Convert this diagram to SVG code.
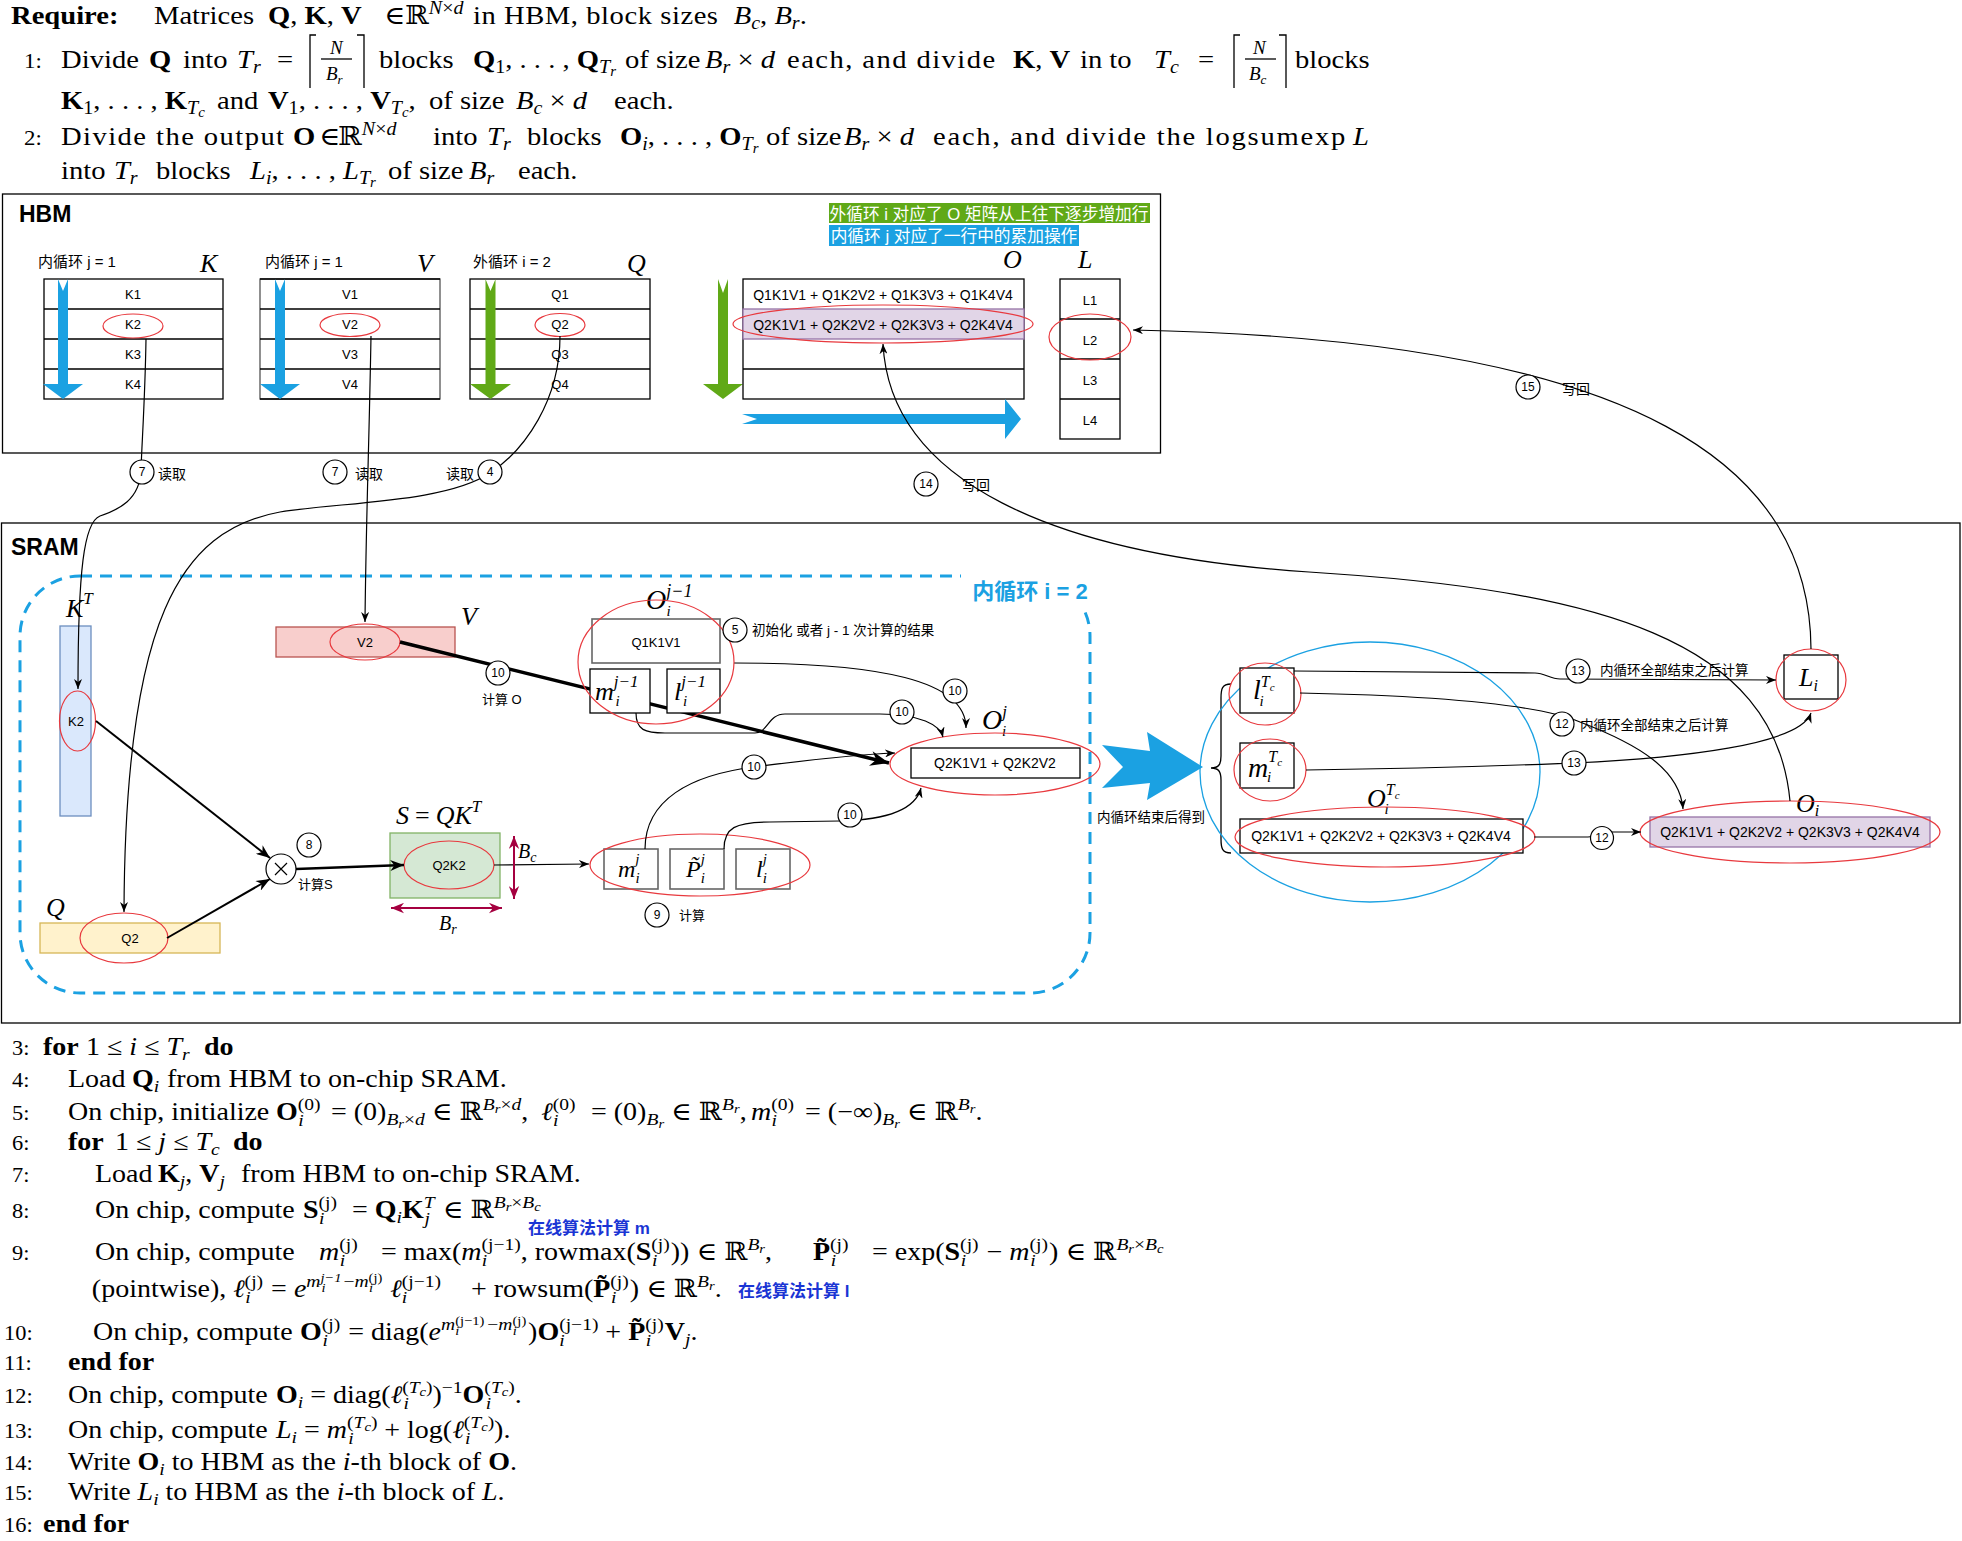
<svg xmlns="http://www.w3.org/2000/svg" width="1962" height="1541" viewBox="0 0 1962 1541">
<defs>
<style>
.top{font-family:"Liberation Serif","DejaVu Serif",serif;font-size:26px;fill:#000}
.alg{font-family:"Liberation Serif","DejaVu Serif",serif;font-size:25px;fill:#000}
.b{font-weight:bold}
.i{font-style:italic}
.s{font-size:0.7em}
.ss{font-size:0.52em}
.ln{font-size:0.8em}
.ls{letter-spacing:1.3px}
.sans{font-family:"Liberation Sans",Arial,"Noto Sans CJK SC",sans-serif;fill:#000}
.cn{font-family:"Liberation Sans","Noto Sans CJK SC",sans-serif;font-size:14px;fill:#000}
.mth{font-family:"Liberation Serif","DejaVu Serif",serif;font-style:italic;fill:#000}
.box{fill:#fff;stroke:#000;stroke-width:1.3}
.gbox{fill:#fff;stroke:#666;stroke-width:1.6}
.red{fill:none;stroke:#e8393e;stroke-width:1.2}
.num{fill:#fff;stroke:#000;stroke-width:1.2}
.ntx{font-family:"Liberation Sans",Arial,sans-serif;font-size:12px;text-anchor:middle;fill:#000}
.c{text-anchor:middle}
.conn path{fill:none;stroke:#000;stroke-width:1.2}
.blueF{fill:#1ba1e2}
.greenF{fill:#60a917}
</style>
<marker id="ah" viewBox="0 0 10 8" refX="10" refY="4" markerWidth="10" markerHeight="8" orient="auto" markerUnits="userSpaceOnUse"><path d="M0,0 L10,4 L0,8 L3,4 z" fill="#000"/></marker>
<marker id="ahM" viewBox="0 0 10 8" refX="10" refY="4" markerWidth="14" markerHeight="11" orient="auto" markerUnits="userSpaceOnUse"><path d="M0,0 L10,4 L0,8 L3,4 z" fill="#000"/></marker>
<marker id="ahB" viewBox="0 0 10 8" refX="10" refY="4" markerWidth="20" markerHeight="15" orient="auto" markerUnits="userSpaceOnUse"><path d="M0,0 L10,4 L0,8 L3,4 z" fill="#000"/></marker>
<marker id="ahR" viewBox="0 0 10 8" refX="10" refY="4" markerWidth="13" markerHeight="11" orient="auto-start-reverse" markerUnits="userSpaceOnUse"><path d="M0,0 L10,4 L0,8 L3,4 z" fill="#a50040"/></marker>
</defs>
<rect x="0" y="0" width="1962" height="1541" fill="#fff"/>

<!-- ================= TOP ALGORITHM TEXT ================= -->
<g id="require-text">
<g transform="scale(1.1,1)">
<text class="top" y="24"><tspan x="10" class="b">Require:</tspan><tspan x="140">Matrices</tspan><tspan x="243.6" class="b">Q</tspan>, <tspan class="b">K</tspan>, <tspan class="b">V</tspan><tspan x="349.1">∈</tspan><tspan x="368.2">ℝ</tspan><tspan class="s i" dy="-10">N</tspan><tspan class="s">×</tspan><tspan class="s i">d</tspan><tspan x="430" dy="10" style="letter-spacing:0.5px">in HBM, block sizes</tspan><tspan x="667" class="i">B</tspan><tspan class="s i" dy="5">c</tspan><tspan dy="-5">, </tspan><tspan class="i">B</tspan><tspan class="s i" dy="5">r</tspan><tspan dy="-5">.</tspan></text>
<text class="top" y="68"><tspan x="21.8" class="ln">1:</tspan><tspan x="55.5">Divide</tspan><tspan x="135.5" class="b">Q</tspan><tspan x="166.4">into</tspan><tspan x="215.5" class="i">T</tspan><tspan class="s i" dy="5">r</tspan><tspan x="251.8" dy="-5">=</tspan><tspan x="344.5">blocks</tspan><tspan x="430" class="b">Q</tspan><tspan class="s" dy="5">1</tspan><tspan dy="-5">, . . . , </tspan><tspan class="b">Q</tspan><tspan class="s i" dy="5">T</tspan><tspan class="ss i" dy="3">r</tspan><tspan x="568.2" dy="-8">of size</tspan><tspan x="640.9" class="i">B</tspan><tspan class="s i" dy="5">r</tspan><tspan dy="-5"> × </tspan><tspan class="i">d</tspan><tspan x="715.5" class="ls">each, and divide</tspan><tspan x="920.9" class="b">K</tspan>, <tspan class="b">V</tspan><tspan x="981.8">in to</tspan><tspan x="1049.1" class="i">T</tspan><tspan class="s i" dy="5">c</tspan><tspan x="1089.1" dy="-5">=</tspan><tspan x="1177.3">blocks</tspan></text>
<text class="top" y="109"><tspan x="55.5" class="b">K</tspan><tspan class="s" dy="5">1</tspan><tspan dy="-5">, . . . , </tspan><tspan class="b">K</tspan><tspan class="s i" dy="5">T</tspan><tspan class="ss i" dy="3">c</tspan><tspan x="197.3" dy="-8">and</tspan><tspan x="243.6" class="b">V</tspan><tspan class="s" dy="5">1</tspan><tspan dy="-5">, . . . , </tspan><tspan class="b">V</tspan><tspan class="s i" dy="5">T</tspan><tspan class="ss i" dy="3">c</tspan><tspan dy="-8">,</tspan><tspan x="390">of size</tspan><tspan x="469.1" class="i">B</tspan><tspan class="s i" dy="5">c</tspan><tspan dy="-5"> × </tspan><tspan class="i">d</tspan><tspan x="558.2">each.</tspan></text>
<text class="top" y="145"><tspan x="21.8" class="ln">2:</tspan><tspan x="55.5" class="ls">Divide the output</tspan><tspan x="266.4" class="b">O</tspan><tspan x="290">∈</tspan><tspan x="307.3">ℝ</tspan><tspan class="s i" dy="-10">N</tspan><tspan class="s">×</tspan><tspan class="s i">d</tspan><tspan x="393.6" dy="10">into</tspan><tspan x="442.7" class="i">T</tspan><tspan class="s i" dy="5">r</tspan><tspan x="479.1" dy="-5">blocks</tspan><tspan x="563.6" class="b">O</tspan><tspan class="s i" dy="5">i</tspan><tspan dy="-5">, . . . , </tspan><tspan class="b">O</tspan><tspan class="s i" dy="5">T</tspan><tspan class="ss i" dy="3">r</tspan><tspan x="696.4" dy="-8">of size</tspan><tspan x="767.3" class="i">B</tspan><tspan class="s i" dy="5">r</tspan><tspan dy="-5"> × </tspan><tspan class="i">d</tspan><tspan x="848.2" style="letter-spacing:1.6px">each, and divide the logsumexp</tspan><tspan x="1230" class="i">L</tspan></text>
<text class="top" y="179"><tspan x="55.5">into</tspan><tspan x="103.6" class="i">T</tspan><tspan class="s i" dy="5">r</tspan><tspan x="141.8" dy="-5">blocks</tspan><tspan x="227.3" class="i">L</tspan><tspan class="s i" dy="5">i</tspan><tspan dy="-5">, . . . , </tspan><tspan class="i">L</tspan><tspan class="s i" dy="5">T</tspan><tspan class="ss i" dy="3">r</tspan><tspan x="352.7" dy="-8">of size</tspan><tspan x="426.4" class="i">B</tspan><tspan class="s i" dy="5">r</tspan><tspan x="470.9" dy="-5">each.</tspan></text>
</g>
<g fill="none" stroke="#000" stroke-width="1.3">
<path d="M316,35 H310 V88 M357,35 H364 V88"/>
<path d="M321,59 H352"/>
<path d="M1240,35 H1234 V88 M1279,35 H1286 V88"/>
<path d="M1245,59 H1276"/>
</g>
<text class="mth" x="330" y="54" style="font-size:19px">N</text>
<text class="mth" x="326" y="80" style="font-size:19px">B<tspan dy="4" style="font-size:13px">r</tspan></text>
<text class="mth" x="1253" y="54" style="font-size:19px">N</text>
<text class="mth" x="1249" y="80" style="font-size:19px">B<tspan dy="4" style="font-size:13px">c</tspan></text>
</g>

<!-- ================= HBM ================= -->
<g id="hbm">
<rect x="2.5" y="194" width="1158" height="259" fill="#fff" stroke="#000" stroke-width="1.3"/>
<text x="19" y="222" class="sans b" style="font-size:23px">HBM</text>
</g>

<g id="legend">
<rect x="829" y="203" width="321" height="20" class="greenF"/>
<text x="989" y="219.5" class="cn c" style="font-size:16.7px;fill:#fff">外循环 i 对应了 O 矩阵从上往下逐步增加行</text>
<rect x="829" y="225" width="250" height="21" class="blueF"/>
<text x="954" y="241.5" class="cn c" style="font-size:16.7px;fill:#fff">内循环 j 对应了一行中的累加操作</text>
</g>

<g id="hbm-k">
<text x="38" y="267" class="cn" style="font-size:15px">内循环 j = 1</text>
<text x="200" y="272" class="mth" style="font-size:26px">K</text>
<rect x="44" y="279" width="179" height="120" class="box"/>
<path d="M44,309H223M44,339H223M44,369H223" stroke="#000" stroke-width="1.3"/>
<polygon points="58,279 63,291 68,279 68,384 83,384 63,399 43,384 58,384" class="blueF"/>
<g class="sans c" style="font-size:13px"><text x="133" y="298.5">K1</text><text x="133" y="328.5">K2</text><text x="133" y="358.5">K3</text><text x="133" y="388.5">K4</text></g>
<ellipse cx="133" cy="326" rx="30" ry="12" class="red"/>
</g>

<g id="hbm-v">
<text x="265" y="267" class="cn" style="font-size:15px">内循环 j = 1</text>
<text x="417" y="272" class="mth" style="font-size:26px">V</text>
<rect x="260" y="279" width="180" height="120" fill="#fff" stroke="#555" stroke-width="1.3"/>
<path d="M260,279H440M260,309H440M260,339H440M260,369H440M260,399H440" stroke="#000" stroke-width="1.3"/>
<polygon points="275,279 280,291 285,279 285,384 300,384 280,399 260,384 275,384" class="blueF"/>
<g class="sans c" style="font-size:13px"><text x="350" y="298.5">V1</text><text x="350" y="328.5">V2</text><text x="350" y="358.5">V3</text><text x="350" y="388.5">V4</text></g>
<ellipse cx="350" cy="325" rx="30" ry="11.5" class="red"/>
</g>

<g id="hbm-q">
<text x="473" y="267" class="cn" style="font-size:15px">外循环 i = 2</text>
<text x="627" y="272" class="mth" style="font-size:26px">Q</text>
<rect x="470" y="279" width="180" height="120" class="box"/>
<path d="M470,309H650M470,339H650M470,369H650" stroke="#000" stroke-width="1.3"/>
<polygon points="485.5,279 490.5,291 495.5,279 495.5,384 511,384 490.5,399 470,384 485.5,384" class="greenF"/>
<g class="sans c" style="font-size:13px"><text x="560" y="298.5">Q1</text><text x="560" y="328.5">Q2</text><text x="560" y="358.5">Q3</text><text x="560" y="388.5">Q4</text></g>
<ellipse cx="560" cy="325" rx="25" ry="11.5" class="red"/>
</g>

<g id="hbm-o">
<text x="1003" y="268" class="mth" style="font-size:26px">O</text>
<polygon points="718,279 723,293 728,279 728,384 743,384 723,399 703,384 718,384" class="greenF"/>
<rect x="743" y="279" width="281" height="120" class="box"/>
<rect x="743" y="309" width="281" height="30" fill="#e1d5e7" stroke="#9673a6" stroke-width="1.3"/>
<path d="M743,369H1024" stroke="#000" stroke-width="1.3"/>
<g class="sans c" style="font-size:14px"><text x="883" y="299.5">Q1K1V1 + Q1K2V2 + Q1K3V3 + Q1K4V4</text><text x="883" y="329.5">Q2K1V1 + Q2K2V2 + Q2K3V3 + Q2K4V4</text></g>
<ellipse cx="883" cy="324" rx="150" ry="19" class="red"/>
<polygon points="742,414 757,419 742,424 1005,424 1005,439 1021,419 1005,399 1005,414" class="blueF"/>
</g>

<g id="hbm-l">
<text x="1078" y="268" class="mth" style="font-size:26px">L</text>
<rect x="1060" y="279" width="60" height="160" class="box"/>
<path d="M1060,319H1120M1060,359H1120M1060,399H1120" stroke="#000" stroke-width="1.3"/>
<g class="sans c" style="font-size:13px"><text x="1090" y="304.5">L1</text><text x="1090" y="344.5">L2</text><text x="1090" y="384.5">L3</text><text x="1090" y="424.5">L4</text></g>
<ellipse cx="1090" cy="337" rx="41" ry="23" class="red"/>
</g>

<!-- ================= SRAM ================= -->
<g id="sram">
<rect x="1.5" y="523" width="1958.5" height="500" fill="none" stroke="#000" stroke-width="1.3"/>
<text x="11" y="555" class="sans b" style="font-size:23px">SRAM</text>
</g>

<g id="inner-loop">
<rect x="20" y="576" width="1070" height="417" rx="60" ry="60" fill="none" stroke="#1ba1e2" stroke-width="3" stroke-dasharray="12 8"/>
<rect x="961" y="574" width="134" height="34" fill="#fff"/>
<text x="1030" y="599" class="cn c b" style="font-size:22px;fill:#1ba1e2">内循环 i = 2</text>
</g>

<g id="sram-kt">
<text x="66" y="617" class="mth" style="font-size:26px">K<tspan dy="-13" style="font-size:17px">T</tspan></text>
<rect x="60" y="626" width="31" height="190" fill="#dae8fc" stroke="#6c8ebf" stroke-width="1.3"/>
<ellipse cx="77.5" cy="721" rx="18" ry="30" class="red"/>
<text x="76" y="726" class="sans c" style="font-size:13px">K2</text>
</g>

<g id="sram-v">
<text x="461" y="625" class="mth" style="font-size:26px">V</text>
<rect x="276" y="627" width="179" height="30" fill="#f8cecc" stroke="#b85450" stroke-width="1.3"/>
<ellipse cx="365" cy="642" rx="35" ry="18" class="red"/>
<text x="365" y="647" class="sans c" style="font-size:13px">V2</text>
</g>

<g id="sram-q">
<text x="46" y="916" class="mth" style="font-size:26px">Q</text>
<rect x="40" y="923" width="180" height="30" fill="#fff2cc" stroke="#d6b656" stroke-width="1.3"/>
<ellipse cx="124" cy="938" rx="44" ry="25" class="red"/>
<text x="130" y="943" class="sans c" style="font-size:13px">Q2</text>
</g>

<g id="sram-s">
<text x="396" y="824" class="mth" style="font-size:26px">S<tspan dx="6" style="font-style:normal">=</tspan><tspan dx="6">QK</tspan><tspan dy="-12" style="font-size:17px">T</tspan></text>
<rect x="390" y="833" width="110" height="65" fill="#d5e8d4" stroke="#82b366" stroke-width="1.3"/>
<ellipse cx="449" cy="865" rx="45" ry="24" class="red"/>
<text x="449" y="870" class="sans c" style="font-size:13px">Q2K2</text>
<text x="518" y="858" class="mth" style="font-size:20px">B<tspan dy="4" style="font-size:14px">c</tspan></text>
<text x="439" y="930" class="mth" style="font-size:20px">B<tspan dy="4" style="font-size:14px">r</tspan></text>
</g>

<g id="sram-mpl">
<rect x="604" y="849" width="54" height="40" class="gbox"/>
<rect x="670" y="849" width="54" height="40" class="gbox"/>
<rect x="736" y="849" width="54" height="40" class="gbox"/>
<text x="618" y="877" class="mth" style="font-size:24px">m<tspan dy="-13" style="font-size:15px">j</tspan><tspan dx="-4" dy="19" style="font-size:15px">i</tspan></text>
<text x="686" y="877" class="mth" style="font-size:24px">P̃<tspan dy="-13" style="font-size:15px">j</tspan><tspan dx="-4" dy="19" style="font-size:15px">i</tspan></text>
<text x="756" y="877" class="mth" style="font-size:24px">l<tspan dy="-13" style="font-size:15px">j</tspan><tspan dx="-4" dy="19" style="font-size:15px">i</tspan></text>
<ellipse cx="700" cy="865" rx="110" ry="31" class="red"/>
</g>

<g id="sram-oj">
<text x="982" y="729" class="mth" style="font-size:28px">O<tspan dy="-12" style="font-size:17px">j</tspan><tspan dx="-5" dy="19" style="font-size:15px">i</tspan></text>
<rect x="911" y="748" width="169" height="30" class="box"/>
<text x="995" y="768" class="sans c" style="font-size:14px">Q2K1V1 + Q2K2V2</text>
<ellipse cx="995" cy="764" rx="105" ry="31" class="red"/>
</g>

<g id="sram-result">
<polygon points="1102,745 1150,751 1147,732 1203,767 1147,800 1150,783 1102,788 1123,767" class="blueF"/>
<text x="1097" y="822" class="cn" style="font-size:13.5px">内循环结束后得到</text>
<path d="M1231,684 C1222,684 1221,689 1221,698 L1221,756 C1221,764 1219,768 1211,768 C1219,768 1221,772 1221,780 L1221,839 C1221,848 1222,853 1231,853" fill="none" stroke="#000" stroke-width="1.3"/>
<ellipse cx="1370" cy="772" rx="170" ry="130" fill="none" stroke="#1ba1e2" stroke-width="1.3"/>
</g>

<g id="sram-ltc">
<rect x="1240" y="668" width="54" height="45" class="box"/>
<text x="1253" y="699" class="mth" style="font-size:28px">l<tspan dy="-12" style="font-size:16px">T</tspan><tspan dy="4" style="font-size:11px">c</tspan><tspan dx="-15" dy="15" style="font-size:15px">i</tspan></text>
<ellipse cx="1265" cy="694" rx="36" ry="31" class="red"/>
</g>

<g id="sram-mtc">
<rect x="1240" y="743" width="54" height="45" class="box"/>
<text x="1248" y="777" class="mth" style="font-size:28px">m<tspan dy="-15" style="font-size:16px">T</tspan><tspan dy="4" style="font-size:11px">c</tspan><tspan dx="-15" dy="16" style="font-size:15px">i</tspan></text>
<ellipse cx="1270" cy="770" rx="36" ry="31" class="red"/>
</g>

<g id="sram-otc">
<text x="1367" y="807" class="mth" style="font-size:26px">O<tspan dy="-12" style="font-size:16px">T</tspan><tspan dy="4" style="font-size:11px">c</tspan><tspan dx="-15" dy="15" style="font-size:15px">i</tspan></text>
<rect x="1240" y="819" width="283" height="34" class="box"/>
<text x="1381" y="841" class="sans c" style="font-size:14px">Q2K1V1 + Q2K2V2 + Q2K3V3 + Q2K4V4</text>
<ellipse cx="1385" cy="837" rx="150" ry="30" class="red"/>
</g>

<g id="sram-li">
<rect x="1784" y="655" width="54" height="44" class="box"/>
<text x="1799" y="686" class="mth" style="font-size:26px">L<tspan dy="5" style="font-size:16px">i</tspan></text>
<ellipse cx="1811" cy="680" rx="35" ry="31" class="red"/>
</g>

<g id="sram-oi">
<text x="1796" y="812" class="mth" style="font-size:26px">O<tspan dy="4" style="font-size:16px">i</tspan></text>
<rect x="1650" y="817" width="280" height="30" fill="#e1d5e7" stroke="#9673a6" stroke-width="1.3"/>
<text x="1790" y="837" class="sans c" style="font-size:14px">Q2K1V1 + Q2K2V2 + Q2K3V3 + Q2K4V4</text>
<ellipse cx="1790" cy="832" rx="150" ry="31" class="red"/>
</g>

<!-- ================= CONNECTORS ================= -->
<g id="connectors" class="conn">
<path d="M146,339 C145,400 142,440 141,470 C140,500 118,510 100,516 C84,522 78,570 78,689" marker-end="url(#ah)"/>
<path d="M371,336 C369,450 366,520 365,622" marker-end="url(#ah)"/>
<path d="M560,336 C560,400 525,450 490,473 C445,503 340,502 280,512 C180,530 125,620 124,912" marker-end="url(#ah)"/>
<path d="M96,721 L270,858" style="stroke-width:2" marker-end="url(#ahM)"/>
<path d="M167,938 L270,879" style="stroke-width:2" marker-end="url(#ahM)"/>
<path d="M296,869 L404,865" style="stroke-width:2.5" marker-end="url(#ahM)"/>
<path d="M494,865 L589,864" marker-end="url(#ah)"/>
<path d="M400,642 L889,763" style="stroke-width:3.5" marker-end="url(#ahB)"/>
<path d="M734,663 C880,663 966,680 966,728" marker-end="url(#ah)"/>
<path d="M636,713 C636,730 645,733 665,733 L755,733 C768,733 768,714 785,714 L880,714 C920,714 940,725 943,737" marker-end="url(#ah)"/>
<path d="M645,849 C645,800 690,775 754,767 C800,761 850,755 895,753" marker-end="url(#ah)"/>
<path d="M724,849 C724,828 735,822 770,822 L840,821 C880,820 915,812 921,788" marker-end="url(#ah)"/>
<path d="M1294,671 L1535,673 C1545,673 1550,679 1560,679 L1776,680" marker-end="url(#ah)"/>
<path d="M1300,693 C1450,696 1540,705 1580,722 C1640,745 1680,770 1683,809" marker-end="url(#ah)"/>
<path d="M1306,770 C1450,768 1520,765 1574,763 C1680,758 1800,745 1811,713" marker-end="url(#ah)"/>
<path d="M1534,837 L1588,837 C1596,837 1598,832 1608,832 L1641,832" marker-end="url(#ah)"/>
<path d="M1811,649 C1810,470 1650,340 1133,330" marker-end="url(#ah)"/>
<path d="M1790,801 C1775,640 1600,590 1309,572 C1050,555 890,480 883,344" marker-end="url(#ah)"/>
<path d="M514,836 L514,899" style="stroke:#a50040;stroke-width:2" marker-start="url(#ahR)" marker-end="url(#ahR)"/>
<path d="M391,908 L502,908" style="stroke:#a50040;stroke-width:2" marker-start="url(#ahR)" marker-end="url(#ahR)"/>
</g>

<!-- nodes drawn above connectors -->
<g id="sram-oj1">
<text x="646" y="609" class="mth" style="font-size:28px">O<tspan dy="-12" style="font-size:18px">j−1</tspan><tspan dx="-26" dy="19" style="font-size:15px">i</tspan></text>
<rect x="592" y="619" width="128" height="44" class="gbox"/>
<text x="656" y="647" class="sans c" style="font-size:13px">Q1K1V1</text>
<rect x="590" y="669" width="60" height="44" class="box"/>
<rect x="667" y="669" width="53" height="44" class="box"/>
<text x="595" y="700" class="mth" style="font-size:26px">m<tspan dy="-13" style="font-size:17px">j−1</tspan><tspan dx="-23" dy="19" style="font-size:15px">i</tspan></text>
<text x="674" y="700" class="mth" style="font-size:26px">l<tspan dy="-13" style="font-size:17px">j−1</tspan><tspan dx="-23" dy="19" style="font-size:15px">i</tspan></text>
<ellipse cx="656" cy="662" rx="78" ry="62" class="red"/>
</g>

<g id="mul">
<circle cx="281" cy="869" r="15" fill="#fff" stroke="#000" stroke-width="1.2"/>
<path d="M275,863 L287,875 M287,863 L275,875" stroke="#000" stroke-width="1.2"/>
</g>

<g id="step-labels">
<circle cx="142" cy="472" r="12" class="num"/><text x="142" y="476" class="ntx">7</text>
<text x="158" y="479" class="cn">读取</text>
<circle cx="335" cy="472" r="12" class="num"/><text x="335" y="476" class="ntx">7</text>
<text x="355" y="479" class="cn">读取</text>
<text x="446" y="479" class="cn">读取</text>
<circle cx="490" cy="472" r="12" class="num"/><text x="490" y="476" class="ntx">4</text>
<circle cx="926" cy="484" r="12" class="num"/><text x="926" y="488" class="ntx">14</text>
<text x="962" y="490" class="cn">写回</text>
<circle cx="1528" cy="387" r="12" class="num"/><text x="1528" y="391" class="ntx">15</text>
<text x="1562" y="394" class="cn">写回</text>
<circle cx="735" cy="630" r="12" class="num"/><text x="735" y="634" class="ntx">5</text>
<text x="752" y="635" class="cn" style="font-size:13.5px">初始化  或者 j - 1 次计算的结果</text>
<circle cx="498" cy="673" r="12" class="num"/><text x="498" y="677" class="ntx">10</text>
<text x="482" y="704" class="cn" style="font-size:13px">计算 O</text>
<circle cx="309" cy="845" r="12" class="num"/><text x="309" y="849" class="ntx">8</text>
<text x="298" y="889" class="cn" style="font-size:13px">计算S</text>
<circle cx="955" cy="691" r="12" class="num"/><text x="955" y="695" class="ntx">10</text>
<circle cx="902" cy="712" r="12" class="num"/><text x="902" y="716" class="ntx">10</text>
<circle cx="754" cy="767" r="12" class="num"/><text x="754" y="771" class="ntx">10</text>
<circle cx="850" cy="815" r="12" class="num"/><text x="850" y="819" class="ntx">10</text>
<circle cx="657" cy="915" r="12" class="num"/><text x="657" y="919" class="ntx">9</text>
<text x="679" y="920" class="cn" style="font-size:13px">计算</text>
<circle cx="1578" cy="671" r="12" class="num"/><text x="1578" y="675" class="ntx">13</text>
<text x="1600" y="675" class="cn" style="font-size:13.5px">内循环全部结束之后计算</text>
<circle cx="1562" cy="724" r="12" class="num"/><text x="1562" y="728" class="ntx">12</text>
<text x="1580" y="730" class="cn" style="font-size:13.5px">内循环全部结束之后计算</text>
<circle cx="1574" cy="763" r="12" class="num"/><text x="1574" y="767" class="ntx">13</text>
<circle cx="1602" cy="838" r="11.5" class="num"/><text x="1602" y="842" class="ntx">12</text>
</g>

<!-- ================= LOWER ALGORITHM TEXT ================= -->
<g id="algorithm">
<g transform="scale(1.12,1)">
<text class="alg" y="1055"><tspan x="10.7" class="ln">3:</tspan><tspan x="38.4" class="b">for</tspan><tspan x="76.8">1 ≤ </tspan><tspan class="i">i</tspan> ≤ <tspan class="i">T</tspan><tspan class="s i" dy="5">r</tspan><tspan x="182.1" dy="-5" class="b">do</tspan></text>
<text class="alg" y="1087"><tspan x="10.7" class="ln">4:</tspan><tspan x="60.7">Load</tspan><tspan x="117.9" class="b">Q</tspan><tspan class="s i" dy="5">i</tspan><tspan x="149.1" dy="-5">from HBM to on-chip SRAM.</tspan></text>
<text class="alg" y="1120"><tspan x="10.7" class="ln">5:</tspan><tspan x="60.7">On chip, initialize</tspan><tspan x="246.4" class="b">O</tspan><tspan class="s" dy="-10">(0)</tspan><tspan class="s i" dx="-20" dy="16">i</tspan><tspan x="295.5" dy="-6">= (0)</tspan><tspan class="s i" dy="5">B</tspan><tspan class="ss i" dy="3">r</tspan><tspan class="s" dy="-3">×</tspan><tspan class="s i">d</tspan><tspan dy="-5"> ∈ ℝ</tspan><tspan class="s i" dy="-10">B</tspan><tspan class="ss i" dy="3">r</tspan><tspan class="s" dy="-3">×</tspan><tspan class="s i">d</tspan><tspan dy="10">,</tspan><tspan x="483" class="i">ℓ</tspan><tspan class="s" dy="-10">(0)</tspan><tspan class="s i" dx="-20" dy="16">i</tspan><tspan x="527.7" dy="-6">= (0)</tspan><tspan class="s i" dy="5">B</tspan><tspan class="ss i" dy="3">r</tspan><tspan dy="-8"> ∈ ℝ</tspan><tspan class="s i" dy="-10">B</tspan><tspan class="ss i" dy="3">r</tspan><tspan dy="7">,</tspan><tspan x="670.5" class="i">m</tspan><tspan class="s" dy="-10">(0)</tspan><tspan class="s i" dx="-20" dy="16">i</tspan><tspan x="718.8" dy="-6">= (−∞)</tspan><tspan class="s i" dy="5">B</tspan><tspan class="ss i" dy="3">r</tspan><tspan dy="-8"> ∈ ℝ</tspan><tspan class="s i" dy="-10">B</tspan><tspan class="ss i" dy="3">r</tspan><tspan dy="7">.</tspan></text>
<text class="alg" y="1150"><tspan x="10.7" class="ln">6:</tspan><tspan x="60.7" class="b">for</tspan><tspan x="102.7">1 ≤ </tspan><tspan class="i">j</tspan> ≤ <tspan class="i">T</tspan><tspan class="s i" dy="5">c</tspan><tspan x="208" dy="-5" class="b">do</tspan></text>
<text class="alg" y="1182"><tspan x="10.7" class="ln">7:</tspan><tspan x="84.8">Load</tspan><tspan x="141.1" class="b">K</tspan><tspan class="s i" dy="5">j</tspan><tspan dy="-5">, </tspan><tspan class="b">V</tspan><tspan class="s i" dy="5">j</tspan><tspan x="215.2" dy="-5">from HBM to on-chip SRAM.</tspan></text>
<text class="alg" y="1218"><tspan x="10.7" class="ln">8:</tspan><tspan x="84.8">On chip, compute</tspan><tspan x="270.5" class="b">S</tspan><tspan class="s" dy="-10">(j)</tspan><tspan class="s i" dx="-16" dy="16">i</tspan><tspan x="314.3" dy="-6">= </tspan><tspan class="b">Q</tspan><tspan class="s i" dy="5">i</tspan><tspan class="b" dy="-5">K</tspan><tspan class="s i" dy="-10">T</tspan><tspan class="s i" dx="-9" dy="16">j</tspan><tspan dx="5" dy="-6"> ∈ ℝ</tspan><tspan class="s i" dy="-10">B</tspan><tspan class="ss i" dy="3">r</tspan><tspan class="s" dy="-3">×</tspan><tspan class="s i">B</tspan><tspan class="ss i" dy="3">c</tspan></text>
<text class="alg" y="1260"><tspan x="10.7" class="ln">9:</tspan><tspan x="84.8">On chip, compute</tspan><tspan x="284.8" class="i">m</tspan><tspan class="s" dy="-10">(j)</tspan><tspan class="s i" dx="-16" dy="16">i</tspan><tspan x="340.2" dy="-6">= max(</tspan><tspan class="i">m</tspan><tspan class="s" dy="-10">(j−1)</tspan><tspan class="s i" dx="-35" dy="16">i</tspan><tspan dx="30" dy="-6">, rowmax(</tspan><tspan class="b">S</tspan><tspan class="s" dy="-10">(j)</tspan><tspan class="s i" dx="-16" dy="16">i</tspan><tspan dx="12" dy="-6">)) ∈ ℝ</tspan><tspan class="s i" dy="-10">B</tspan><tspan class="ss i" dy="3">r</tspan><tspan dy="7">,</tspan><tspan x="725.9" class="b">P̃</tspan><tspan class="s" dy="-10">(j)</tspan><tspan class="s i" dx="-16" dy="16">i</tspan><tspan x="778.6" dy="-6">= exp(</tspan><tspan class="b">S</tspan><tspan class="s" dy="-10">(j)</tspan><tspan class="s i" dx="-16" dy="16">i</tspan><tspan dx="12" dy="-6"> − </tspan><tspan class="i">m</tspan><tspan class="s" dy="-10">(j)</tspan><tspan class="s i" dx="-16" dy="16">i</tspan><tspan dx="12" dy="-6">) ∈ ℝ</tspan><tspan class="s i" dy="-10">B</tspan><tspan class="ss i" dy="3">r</tspan><tspan class="s" dy="-3">×</tspan><tspan class="s i">B</tspan><tspan class="ss i" dy="3">c</tspan></text>
<text class="alg" y="1297"><tspan x="82">(pointwise),</tspan><tspan x="208" class="i">ℓ</tspan><tspan class="s" dy="-10">(j)</tspan><tspan class="s i" dx="-16" dy="16">i</tspan><tspan dx="12" dy="-6"> = </tspan><tspan class="i">e</tspan><tspan class="s i" dy="-10">m</tspan><tspan class="ss i" dy="-5">j−1</tspan><tspan class="ss i" dx="-18" dy="10">i</tspan><tspan class="s" dx="16" dy="-5">−</tspan><tspan class="s i">m</tspan><tspan class="ss" dy="-5">(j)</tspan><tspan class="ss i" dx="-12" dy="10">i</tspan><tspan dx="9" dy="5"> </tspan><tspan class="i">ℓ</tspan><tspan class="s" dy="-10">(j−1)</tspan><tspan class="s i" dx="-35" dy="16">i</tspan><tspan x="420.5" dy="-6">+ rowsum(</tspan><tspan class="b">P̃</tspan><tspan class="s" dy="-10">(j)</tspan><tspan class="s i" dx="-16" dy="16">i</tspan><tspan dx="12" dy="-6">) ∈ ℝ</tspan><tspan class="s i" dy="-10">B</tspan><tspan class="ss i" dy="3">r</tspan><tspan dy="7">.</tspan></text>
<text class="alg" y="1340"><tspan x="3.6" class="ln">10:</tspan><tspan x="83">On chip, compute</tspan><tspan x="267.9" class="b">O</tspan><tspan class="s" dy="-10">(j)</tspan><tspan class="s i" dx="-16" dy="16">i</tspan><tspan dx="12" dy="-6"> = diag(</tspan><tspan class="i">e</tspan><tspan class="s i" dy="-10">m</tspan><tspan class="ss" dy="-5">(j−1)</tspan><tspan class="ss i" dx="-26" dy="10">i</tspan><tspan class="s" dx="25" dy="-5">−</tspan><tspan class="s i">m</tspan><tspan class="ss" dy="-5">(j)</tspan><tspan class="ss i" dx="-12" dy="10">i</tspan><tspan dx="10" dy="5">)</tspan><tspan class="b">O</tspan><tspan class="s" dy="-10">(j−1)</tspan><tspan class="s i" dx="-35" dy="16">i</tspan><tspan dx="30" dy="-6"> + </tspan><tspan class="b">P̃</tspan><tspan class="s" dy="-10">(j)</tspan><tspan class="s i" dx="-16" dy="16">i</tspan><tspan class="b" dx="12" dy="-6">V</tspan><tspan class="s i" dy="5">j</tspan><tspan dy="-5">.</tspan></text>
<text class="alg" y="1370"><tspan x="3.6" class="ln">11:</tspan><tspan x="60.7" class="b">end for</tspan></text>
<text class="alg" y="1403"><tspan x="3.6" class="ln">12:</tspan><tspan x="60.7">On chip, compute</tspan><tspan x="246.4" class="b">O</tspan><tspan class="s i" dy="5">i</tspan><tspan dy="-5"> = diag(</tspan><tspan class="i">ℓ</tspan><tspan class="s" dy="-10">(</tspan><tspan class="s i">T</tspan><tspan class="ss i" dy="3">c</tspan><tspan class="s" dy="-3">)</tspan><tspan class="s i" dx="-26" dy="16">i</tspan><tspan dx="21" dy="-6">)</tspan><tspan class="s" dy="-10">−1</tspan><tspan class="b" dy="10">O</tspan><tspan class="s" dy="-10">(</tspan><tspan class="s i">T</tspan><tspan class="ss i" dy="3">c</tspan><tspan class="s" dy="-3">)</tspan><tspan class="s i" dx="-26" dy="16">i</tspan><tspan dx="21" dy="-6">.</tspan></text>
<text class="alg" y="1438"><tspan x="3.6" class="ln">13:</tspan><tspan x="60.7">On chip, compute</tspan><tspan x="246.4" class="i">L</tspan><tspan class="s i" dy="5">i</tspan><tspan dy="-5"> = </tspan><tspan class="i">m</tspan><tspan class="s" dy="-10">(</tspan><tspan class="s i">T</tspan><tspan class="ss i" dy="3">c</tspan><tspan class="s" dy="-3">)</tspan><tspan class="s i" dx="-26" dy="16">i</tspan><tspan dx="21" dy="-6"> + log(</tspan><tspan class="i">ℓ</tspan><tspan class="s" dy="-10">(</tspan><tspan class="s i">T</tspan><tspan class="ss i" dy="3">c</tspan><tspan class="s" dy="-3">)</tspan><tspan class="s i" dx="-26" dy="16">i</tspan><tspan dx="21" dy="-6">).</tspan></text>
<text class="alg" y="1470"><tspan x="3.6" class="ln">14:</tspan><tspan x="60.7">Write </tspan><tspan class="b">O</tspan><tspan class="s i" dy="5">i</tspan><tspan dy="-5"> to HBM as the </tspan><tspan class="i">i</tspan>-th block of <tspan class="b">O</tspan>.</text>
<text class="alg" y="1500"><tspan x="3.6" class="ln">15:</tspan><tspan x="60.7">Write </tspan><tspan class="i">L</tspan><tspan class="s i" dy="5">i</tspan><tspan dy="-5"> to HBM as the </tspan><tspan class="i">i</tspan>-th block of <tspan class="i">L</tspan>.</text>
<text class="alg" y="1532"><tspan x="3.6" class="ln">16:</tspan><tspan x="38.4" class="b">end for</tspan></text>
</g>
<text x="528" y="1234" class="cn b" style="font-size:17px;fill:#1a35d4">在线算法计算 m</text>
<text x="738" y="1297" class="cn b" style="font-size:17px;fill:#1a35d4">在线算法计算 l</text>
</g>
</svg>
